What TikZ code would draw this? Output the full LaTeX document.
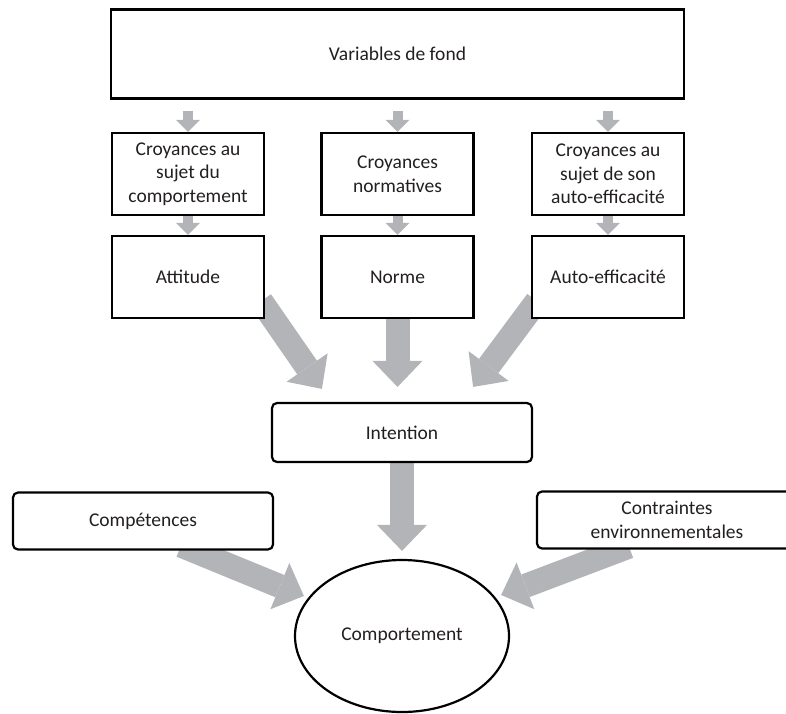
\documentclass[tikz,border=0pt]{standalone}
\usepackage{fontspec}
\setmainfont{Carlito}
\usetikzlibrary{arrows.meta,shapes.geometric,backgrounds}
\definecolor{flechegris}{RGB}{178,180,183}
\definecolor{texte}{RGB}{35,31,32}

\begin{document}
\begin{tikzpicture}[x=1pt,y=-1pt]
    \tikzset{
        boite/.style={draw, fill=white, line width=2.2pt, inner sep=0pt, text=texte, align=center,
            font=\fontsize{19.5}{23.5}\selectfont},
        bloc/.style={boite, minimum width=152pt, minimum height=82pt},
        arrondi/.style={boite, rounded corners=5pt, minimum width=260pt},
        petite/.style={color=flechegris, line width=10pt, -{Triangle[length=12pt,width=24pt,line width=0pt]}},
        grande/.style={color=flechegris, line width=24pt, -{Triangle[length=26pt,width=50pt,line width=0pt]}}
    }
    \useasboundingbox (0,0) rectangle (786,713);
    \node[boite, minimum width=573pt, minimum height=89pt] (fond) at (397.5,54) {Variables de fond};
    \node[bloc] (cr1) at (188,174) {Croyances au\\sujet du\\comportement};
    \node[bloc] (cr2) at (397.5,174) {Croyances\\normatives};
    \node[bloc] (cr3) at (608,174) {Croyances au\\sujet de son\\auto-efficacité};
    \node[bloc] (att) at (188,277) {Attitude};
    \node[bloc] (norme) at (397.5,277) {Norme};
    \node[bloc] (autoeff) at (608,277) {Auto-efficacité};
    \node[arrondi, minimum height=59pt] (int) at (402,432.5) {Intention};
    \node[arrondi, minimum height=57pt] (comp) at (143,521) {Compétences};
    \node[arrondi, minimum height=57pt] (contr) at (667,520) {Contraintes\\environnementales};
    \node[boite, ellipse, minimum width=214pt, minimum height=152pt] (comport) at (402,636) {Comportement};
    \begin{scope}[on background layer]
        \path[petite]
            (fond.south -| cr1) edge [shorten <=11pt] (cr1)
            (fond.south -| cr2) edge [shorten <=11pt] (cr2)
            (fond.south -| cr3) edge [shorten <=11pt] (cr3)
            (cr1) edge (att)
            (cr2) edge (norme)
            (cr3) edge (autoeff);
        \path[grande]
            ([shift={(-4,-18)}]att.south east) edge ([shift={(51,-13)}]int.north west)
            (norme) edge [shorten >=15pt] (norme |- int.north)
            ([shift={(6,-18)}]autoeff.south west) edge ([shift={(-60,-15)}]int.north east)
            (int) edge [shorten >=8pt] (comport)
            ([shift={(-93,-5)}]comp.south east) edge ([shift={(10,-40)}]comport.west)
            ([shift={(93,-3)}]contr.south west) edge ([shift={(-9,-41)}]comport.east);
    \end{scope}
\end{tikzpicture}
\end{document}
